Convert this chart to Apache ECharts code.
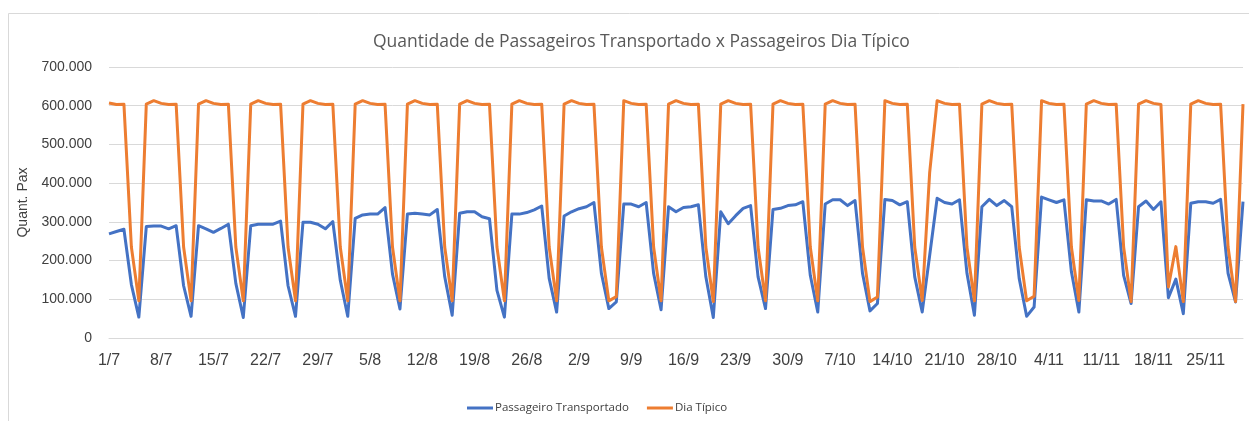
<!DOCTYPE html>
<html>
<head>
<meta charset="utf-8">
<script src="https://cdn.jsdelivr.net/npm/echarts@6/dist/echarts.min.js"></script>
<style>
html,body{margin:0;padding:0;background:#fff;}
#c{width:1249px;height:421px;}
</style>
</head>
<body>
<div id="c"></div>
<script>
var categories = [
'1/7','2/7','3/7','4/7','5/7','6/7','7/7','8/7','9/7','10/7','11/7','12/7','13/7','14/7','15/7','16/7','17/7','18/7','19/7','20/7','21/7','22/7','23/7','24/7','25/7','26/7','27/7','28/7','29/7','30/7','31/7',
'1/8','2/8','3/8','4/8','5/8','6/8','7/8','8/8','9/8','10/8','11/8','12/8','13/8','14/8','15/8','16/8','17/8','18/8','19/8','20/8','21/8','22/8','23/8','24/8','25/8','26/8','27/8','28/8','29/8','30/8','31/8',
'1/9','2/9','3/9','4/9','5/9','6/9','7/9','8/9','9/9','10/9','11/9','12/9','13/9','14/9','15/9','16/9','17/9','18/9','19/9','20/9','21/9','22/9','23/9','24/9','25/9','26/9','27/9','28/9','29/9','30/9',
'1/10','2/10','3/10','4/10','5/10','6/10','7/10','8/10','9/10','10/10','11/10','12/10','13/10','14/10','15/10','16/10','17/10','18/10','19/10','20/10','21/10','22/10','23/10','24/10','25/10','26/10','27/10','28/10','29/10','30/10','31/10',
'1/11','2/11','3/11','4/11','5/11','6/11','7/11','8/11','9/11','10/11','11/11','12/11','13/11','14/11','15/11','16/11','17/11','18/11','19/11','20/11','21/11','22/11','23/11','24/11','25/11','26/11','27/11','28/11','29/11','30/11'
];

var passageiroTransportado = [
269000,275000,281000,138000,54000,
288000,289000,289000,282000,290000,135000,56000,
290000,282000,273000,283000,294000,141000,53000,
290000,294000,294000,294000,302000,135000,56000,
299000,299000,294000,282000,301000,149000,56000,
309000,318000,320000,320000,337000,165000,75000,
320000,322000,320000,318000,332000,158000,59000,
322000,326000,326000,313000,308000,123000,54000,
320000,320000,324000,331000,341000,154000,67000,
315000,326000,334000,339000,350000,167000,76000,
93000,346000,346000,339000,350000,167000,73000,
339000,326000,337000,339000,344000,158000,53000,
326000,295000,316000,335000,342000,158000,76000,
332000,335000,342000,344000,352000,162000,67000,
346000,357000,357000,342000,355000,167000,70000,
89000,358000,355000,344000,352000,158000,67000,
213000,361000,350000,346000,357000,167000,59000,
339000,358000,342000,355000,339000,154000,56000,
80000,364000,357000,350000,357000,171000,67000,
357000,354000,354000,346000,358000,162000,89000,
339000,354000,332000,352000,104000,152000,63000,
348000,352000,352000,348000,358000,167000,93000,
352000
];

var diaTipico = [
607000,603000,604000,235000,96000,
604000,613000,606000,603000,604000,235000,96000,
604000,613000,606000,603000,604000,235000,96000,
604000,613000,606000,603000,604000,235000,96000,
604000,613000,606000,603000,604000,235000,96000,
604000,613000,606000,603000,604000,235000,96000,
604000,613000,606000,603000,604000,235000,96000,
604000,613000,606000,603000,604000,235000,96000,
604000,613000,606000,603000,604000,235000,96000,
604000,613000,606000,603000,604000,235000,96000,
107000,613000,606000,603000,604000,235000,96000,
604000,613000,606000,603000,604000,235000,94000,
604000,613000,606000,603000,604000,235000,96000,
604000,613000,606000,603000,604000,235000,96000,
604000,613000,606000,603000,604000,235000,94000,
106000,613000,606000,603000,604000,235000,97000,
427000,613000,606000,603000,604000,235000,96000,
604000,613000,606000,603000,604000,235000,96000,
108000,613000,606000,603000,604000,235000,97000,
604000,613000,606000,603000,604000,235000,94000,
604000,613000,606000,603000,132000,236000,94000,
604000,613000,606000,603000,604000,235000,94000,
604000
];

var seriesNames = ['Passageiro Transportado', 'Dia Típico'];
var titleText = 'Quantidade de Passageiros Transportado x Passageiros Dia Típico';
var yAxisName = 'Quant. Pax';

function fmt(v){
  return String(v).replace(/\B(?=(\d{3})+(?!\d))/g, '.');
}

var chart = echarts.init(document.getElementById('c'), null, {renderer:'canvas'});
chart.setOption({
  animation: false,
  backgroundColor: '#ffffff',
  graphic: [{
    type: 'rect',
    shape: {x: 8.5, y: 13.5, width: 1300, height: 500},
    style: {fill: 'none', stroke: '#d9d9d9', lineWidth: 1},
    silent: true, z: -10
  }],
  title: {
    text: titleText,
    left: 368,
    top: 28,
    textStyle: {fontFamily: 'Open Sans', fontSize: 17.5, fontWeight: 'normal', color: '#595959'}
  },
  legend: {
    data: seriesNames,
    left: 462,
    top: 397,
    icon: 'rect',
    itemWidth: 26,
    itemHeight: 3,
    itemGap: 18,
    textStyle: {fontFamily: 'Open Sans', fontSize: 11.5, color: '#404040', padding: [0,0,0,-3]}
  },
  grid: {left: 109, right: 6, top: 67, bottom: 83, containLabel: false},
  xAxis: {
    type: 'category',
    data: categories,
    boundaryGap: false,
    axisLine: {show: true, lineStyle: {color: '#d9d9d9', width: 1}},
    axisTick: {show: false},
    axisLabel: {interval: 6, margin: 15, fontFamily: 'Liberation Sans', fontSize: 16, color: '#404040'},
    splitLine: {show: false}
  },
  yAxis: {
    type: 'value',
    min: 0, max: 700000, interval: 100000,
    name: yAxisName,
    nameLocation: 'middle',
    nameGap: 67,
    nameTextStyle: {fontFamily: 'Liberation Sans', fontSize: 14, color: '#404040'},
    axisLine: {show: false},
    axisTick: {show: false},
    axisLabel: {margin: 17, fontFamily: 'Liberation Sans', fontSize: 14, color: '#404040', formatter: fmt},
    splitLine: {lineStyle: {color: '#d9d9d9', width: 1}}
  },
  series: [
    {name: seriesNames[0], type: 'line', data: passageiroTransportado, showSymbol: false, symbol: 'none',
     lineStyle: {color: '#4472C4', width: 3, join: 'round'}, itemStyle: {color: '#4472C4'}},
    {name: seriesNames[1], type: 'line', data: diaTipico, showSymbol: false, symbol: 'none',
     lineStyle: {color: '#ED7D31', width: 3, join: 'round'}, itemStyle: {color: '#ED7D31'}}
  ]
});
</script>
</body>
</html>
